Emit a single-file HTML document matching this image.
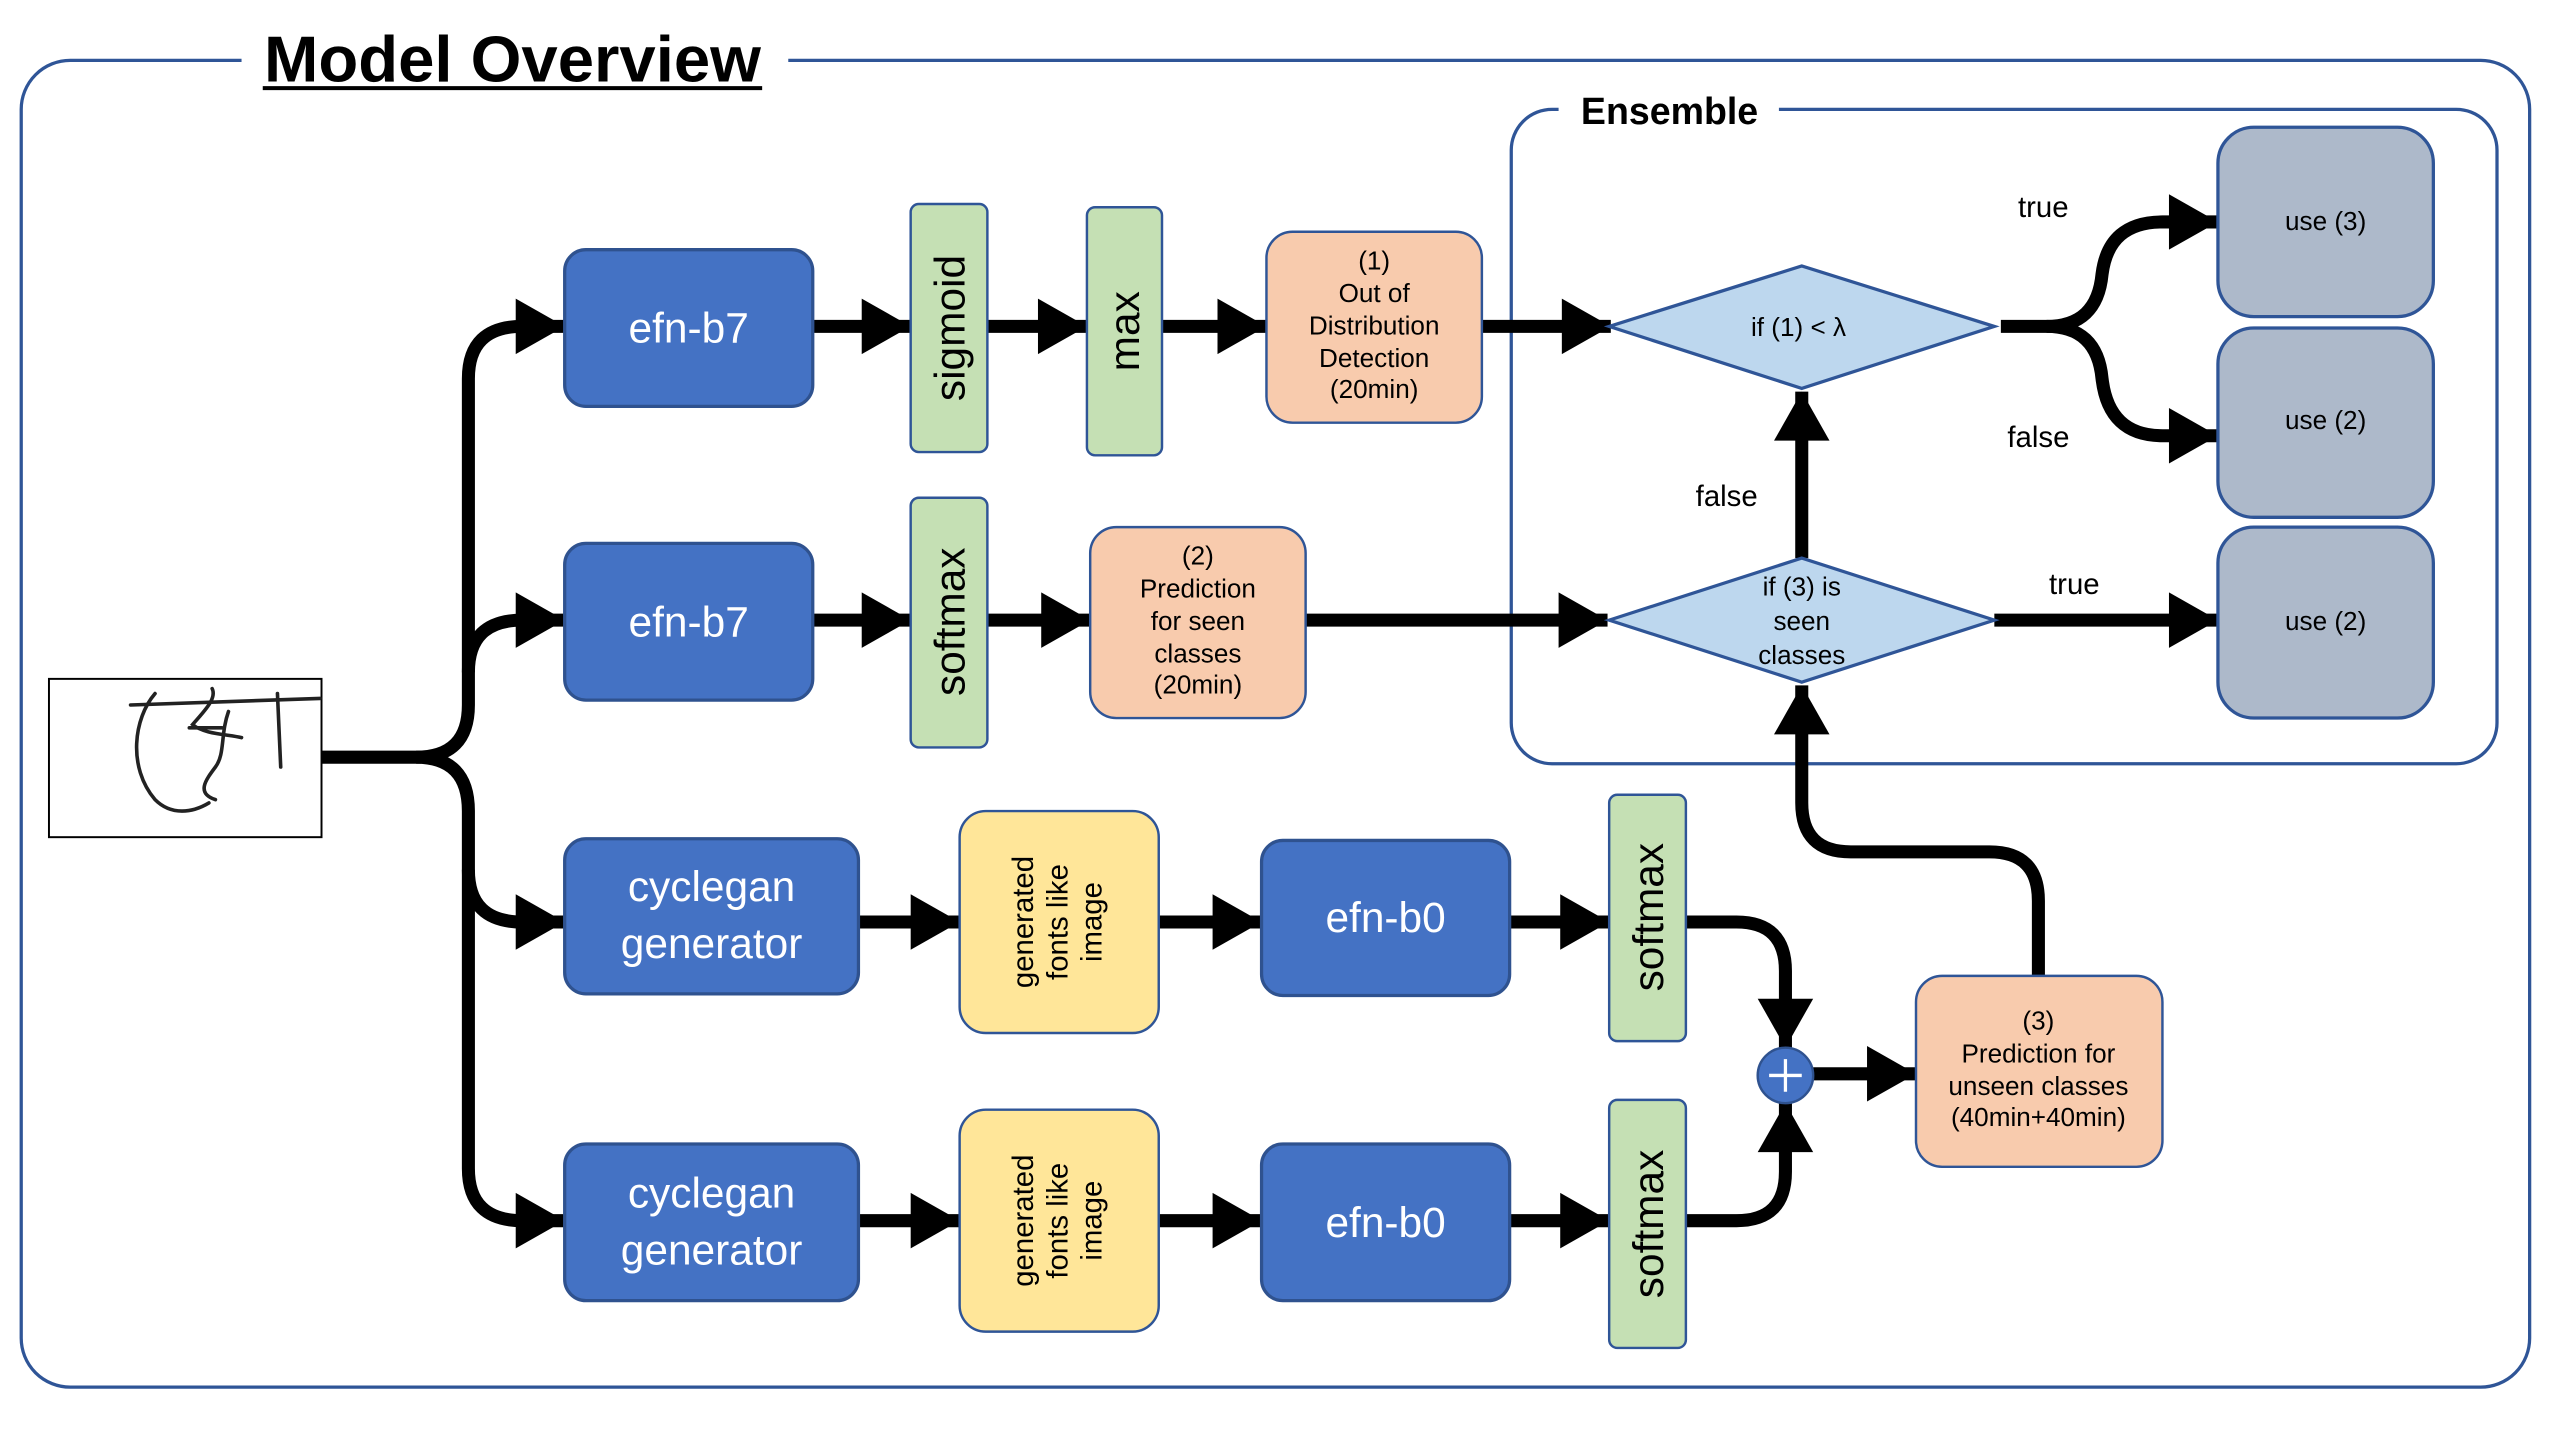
<!DOCTYPE html>
<html><head><meta charset="utf-8"><style>
html,body{margin:0;padding:0;background:#fff;}
svg{display:block;}
text{font-family:"Liberation Sans","Noto Sans CJK JP",sans-serif;}
</style></head><body>
<svg width="2560" height="1440" viewBox="0 0 1568.6 882.4" preserveAspectRatio="none" xmlns="http://www.w3.org/2000/svg">
<defs>
<marker id="ah" markerUnits="userSpaceOnUse" markerWidth="34" markerHeight="36" refX="32" refY="18" orient="auto">
<path d="M2,1 L32,18 L2,35 Z" fill="#000"/>
</marker>
</defs>
<rect x="0" y="0" width="1570" height="885" fill="#fff"/>
<rect x="13" y="37" width="1537" height="813" rx="30" fill="none" stroke="#2f5597" stroke-width="2"/>
<rect x="148" y="28" width="335" height="20" fill="#fff"/>
<text x="314" y="50" font-size="40" font-weight="bold" text-anchor="middle">Model Overview</text>
<line x1="161" y1="54" x2="467" y2="54" stroke="#000" stroke-width="2.5"/>
<rect x="926" y="67" width="604" height="401" rx="25" fill="none" stroke="#2f5597" stroke-width="2"/>
<rect x="955" y="60" width="135" height="14" fill="#fff"/>
<text x="1023" y="76" font-size="23" font-weight="bold" text-anchor="middle">Ensemble</text>

<rect x="30" y="416" width="167" height="97" fill="#fff" stroke="#000" stroke-width="1.2"/>
<g fill="none" stroke="#222" stroke-width="2.2" stroke-linecap="round">
<path d="M80,432 L196,428"/>
<path d="M95,425 C82,440 78,470 95,490 C105,500 118,498 128,492"/>
<path d="M130,422 C133,428 125,436 118,444 C125,450 140,450 148,452"/>
<path d="M140,436 C135,450 138,462 132,470 C126,478 120,486 132,490"/>
<path d="M170,425 L172,470"/>
<path d="M116,446 L136,446"/>
</g>

<g fill="none" stroke="#000" stroke-width="8">
<path d="M197,464 L255,464 Q287,464 287,432 L287,232 Q287,200 320,200 L346,200" marker-end="url(#ah)"/>
<path d="M287,412 Q287,380 320,380 L346,380" marker-end="url(#ah)"/>
<path d="M255,464 Q287,464 287,497 L287,533 Q287,565 320,565 L346,565" marker-end="url(#ah)"/>
<path d="M287,533 L287,716 Q287,748 320,748 L346,748" marker-end="url(#ah)"/>

<path d="M498,200 L558,200" marker-end="url(#ah)"/>
<path d="M605,200 L666,200" marker-end="url(#ah)"/>
<path d="M712,200 L776,200" marker-end="url(#ah)"/>
<path d="M908,200 L987,200" marker-end="url(#ah)"/>

<path d="M498,380 L558,380" marker-end="url(#ah)"/>
<path d="M605,380 L668,380" marker-end="url(#ah)"/>
<path d="M800,380 L985,380" marker-end="url(#ah)"/>

<path d="M526,565 L588,565" marker-end="url(#ah)"/>
<path d="M710,565 L773,565" marker-end="url(#ah)"/>
<path d="M925,565 L986,565" marker-end="url(#ah)"/>
<path d="M526,748 L588,748" marker-end="url(#ah)"/>
<path d="M710,748 L773,748" marker-end="url(#ah)"/>
<path d="M925,748 L986,748" marker-end="url(#ah)"/>

<path d="M1033,565 L1064,565 Q1094,565 1094,595 L1094,642" marker-end="url(#ah)"/>
<path d="M1033,748 L1064,748 Q1094,748 1094,718 L1094,676" marker-end="url(#ah)"/>
<path d="M1111,658 L1174,658" marker-end="url(#ah)"/>
<path d="M1249,598 L1249,552 Q1249,522 1219,522 L1134,522 Q1104,522 1104,492 L1104,420" marker-end="url(#ah)"/>

<path d="M1104,342 L1104,240" marker-end="url(#ah)"/>
<path d="M1222,380 L1359,380" marker-end="url(#ah)"/>
<path d="M1226,200 L1254,200 Q1285,200 1288,168 Q1292,136 1325,136 L1359,136" marker-end="url(#ah)"/>
<path d="M1254,200 Q1285,200 1288,232 Q1292,267 1325,267 L1359,267" marker-end="url(#ah)"/>
</g>

<g fill="#4472c4" stroke="#2f528f" stroke-width="2">
<rect x="346" y="153" width="152" height="96" rx="13"/>
<rect x="346" y="333" width="152" height="96" rx="13"/>
<rect x="346" y="514" width="180" height="95" rx="13"/>
<rect x="346" y="701" width="180" height="96" rx="13"/>
<rect x="773" y="515" width="152" height="95" rx="13"/>
<rect x="773" y="701" width="152" height="96" rx="13"/>
</g>
<g fill="#fff" font-size="26" text-anchor="middle">
<text x="422" y="210">efn-b7</text>
<text x="422" y="390">efn-b7</text>
<text x="436" y="552">cyclegan</text>
<text x="436" y="587">generator</text>
<text x="436" y="740">cyclegan</text>
<text x="436" y="775">generator</text>
<text x="849" y="571">efn-b0</text>
<text x="849" y="758">efn-b0</text>
</g>

<g fill="#c5e0b4" stroke="#2f5597" stroke-width="1.5">
<rect x="558" y="125" width="47" height="152" rx="5"/>
<rect x="666" y="127" width="46" height="152" rx="5"/>
<rect x="558" y="305" width="47" height="153" rx="5"/>
<rect x="986" y="487" width="47" height="151" rx="5"/>
<rect x="986" y="674" width="47" height="152" rx="5"/>
</g>
<g font-size="26" text-anchor="middle" fill="#000">
<text transform="translate(591,201) rotate(-90)">sigmoid</text>
<text transform="translate(698,203) rotate(-90)">max</text>
<text transform="translate(591,381) rotate(-90)">softmax</text>
<text transform="translate(1019,562) rotate(-90)">softmax</text>
<text transform="translate(1019,750) rotate(-90)">softmax</text>
</g>

<g fill="#f8cbad" stroke="#2f5597" stroke-width="1.5">
<rect x="776" y="142" width="132" height="117" rx="16"/>
<rect x="668" y="323" width="132" height="117" rx="16"/>
<rect x="1174" y="598" width="151" height="117" rx="16"/>
</g>
<g font-size="16" text-anchor="middle" fill="#000">
<text x="842" y="165">(1)</text><text x="842" y="185">Out of</text><text x="842" y="205">Distribution</text><text x="842" y="225">Detection</text><text x="842" y="244">(20min)</text>
<text x="734" y="346">(2)</text><text x="734" y="366">Prediction</text><text x="734" y="386">for seen</text><text x="734" y="406">classes</text><text x="734" y="425">(20min)</text>
<text x="1249" y="631">(3)</text><text x="1249" y="651">Prediction for</text><text x="1249" y="671">unseen classes</text><text x="1249" y="690">(40min+40min)</text>
</g>

<g fill="#ffe699" stroke="#2f5597" stroke-width="1.5">
<rect x="588" y="497" width="122" height="136" rx="16"/>
<rect x="588" y="680" width="122" height="136" rx="16"/>
</g>
<g font-size="18" text-anchor="middle" fill="#000">
<g transform="translate(650,565) rotate(-90)"><text x="0" y="-17">generated</text><text x="0" y="4">fonts like</text><text x="0" y="25">image</text></g>
<g transform="translate(650,748) rotate(-90)"><text x="0" y="-17">generated</text><text x="0" y="4">fonts like</text><text x="0" y="25">image</text></g>
</g>

<circle cx="1094" cy="659" r="17" fill="#4472c4" stroke="#2f528f" stroke-width="1.5"/>
<path d="M1084,659 H1104 M1094,649 V669" stroke="#fff" stroke-width="2"/>

<g fill="#bdd7ee" stroke="#2f5597" stroke-width="2">
<path d="M986,200 L1104,163 L1222,200 L1104,238 Z"/>
<path d="M986,380 L1104,342 L1222,380 L1104,418 Z"/>
</g>
<g font-size="16" text-anchor="middle" fill="#000">
<text x="1102" y="206">if (1) &lt; λ</text>
<text x="1104" y="365">if (3) is</text><text x="1104" y="386">seen</text><text x="1104" y="407">classes</text>
</g>

<g fill="#adb9ca" stroke="#2f5597" stroke-width="2">
<rect x="1359" y="78" width="132" height="116" rx="22"/>
<rect x="1359" y="201" width="132" height="116" rx="22"/>
<rect x="1359" y="323" width="132" height="117" rx="22"/>
</g>
<g font-size="16" text-anchor="middle" fill="#000">
<text x="1425" y="141">use (3)</text>
<text x="1425" y="263">use (2)</text>
<text x="1425" y="386">use (2)</text>
</g>

<g font-size="18" text-anchor="middle" fill="#000">
<text x="1252" y="133">true</text>
<text x="1249" y="274">false</text>
<text x="1058" y="310">false</text>
<text x="1271" y="364">true</text>
</g>
</svg>
</body></html>
